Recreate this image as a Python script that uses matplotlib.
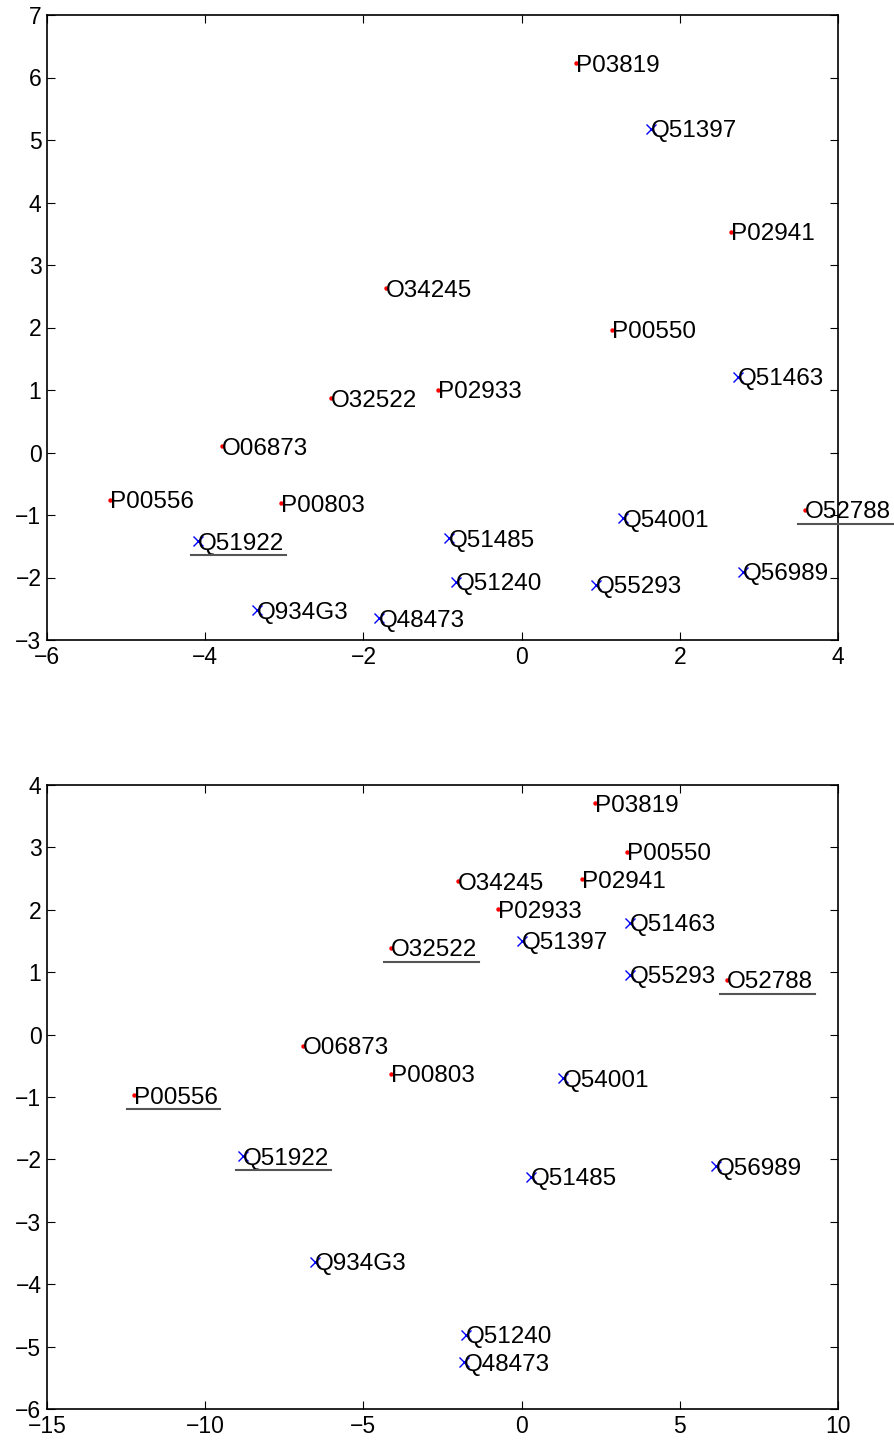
import matplotlib
matplotlib.use("Agg")
import matplotlib.pyplot as plt
from matplotlib.lines import Line2D

plt.rcParams['font.family'] = ['Liberation Sans', 'DejaVu Sans']

# top panel: red dots (P/O) and blue crosses (Q)
top_dot_names = ["P03819", "P02941", "O34245", "P00550", "P02933", "O32522",
                 "O06873", "P00556", "P00803", "O52788"]
top_dot_x = [0.69, 2.65, -1.71, 1.14, -1.06, -2.41, -3.79, -5.20, -3.04, 3.58]
top_dot_y = [6.23, 3.53, 2.63, 1.96, 1.00, 0.87, 0.10, -0.76, -0.81, -0.92]

top_x_names = ["Q51397", "Q51463", "Q54001", "Q51922", "Q51485", "Q56989",
               "Q51240", "Q55293", "Q934G3", "Q48473"]
top_x_x = [1.64, 2.74, 1.28, -4.09, -0.92, 2.80, -0.83, 0.94, -3.35, -1.80]
top_x_y = [5.18, 1.21, -1.05, -1.42, -1.37, -1.91, -2.07, -2.12, -2.52, -2.65]

top_underlined = ["Q51922", "O52788"]

# bottom panel
bot_dot_names = ["P03819", "P00550", "O34245", "P02941", "P02933", "O32522",
                 "O52788", "O06873", "P00803", "P00556"]
bot_dot_x = [2.32, 3.33, -2.01, 1.91, -0.75, -4.13, 6.49, -6.91, -4.13, -12.25]
bot_dot_y = [3.71, 2.93, 2.46, 2.49, 2.01, 1.39, 0.875, -0.18, -0.63, -0.97]

bot_x_names = ["Q51463", "Q51397", "Q55293", "Q54001", "Q51922", "Q56989",
               "Q51485", "Q934G3", "Q51240", "Q48473"]
bot_x_x = [3.43, 0.01, 3.43, 1.31, -8.81, 6.14, 0.30, -6.53, -1.76, -1.82]
bot_x_y = [1.79, 1.50, 0.96, -0.70, -1.95, -2.11, -2.28, -3.64, -4.81, -5.25]

bot_underlined = ["O32522", "O52788", "P00556", "Q51922"]

W, H = 895, 1445
fig = plt.figure(figsize=(W / 100, H / 100), dpi=100)

LABEL_FS = 17.5
TICK_FS = 16.5


def panel(rect, dn, dx, dy, xn, xx, xy, xlim, ylim, xticks, yticks, underlined):
    ax = fig.add_axes(rect)
    ax.plot(dx, dy, 'o', color='red', markersize=3.2, markeredgewidth=0, zorder=3)
    ax.plot(xx, xy, 'x', color='blue', markersize=6.5, markeredgewidth=1, zorder=3)
    texts = []
    for n, x, y in list(zip(dn, dx, dy)) + list(zip(xn, xx, xy)):
        t = ax.text(x, y, n, ha='left', va='center_baseline', fontsize=LABEL_FS,
                    clip_on=False)
        if n in underlined:
            texts.append((t, x, y))
    ax.set_xlim(*xlim)
    ax.set_ylim(*ylim)
    ax.set_xticks(xticks)
    ax.set_yticks(yticks)
    ax.tick_params(direction='in', length=6, width=0.8, top=True, right=True,
                   labelsize=TICK_FS, pad=4)
    for s in ax.spines.values():
        s.set_linewidth(1.2)
    return ax, texts


ax1, ul1 = panel([47 / W, 1 - 640 / H, 791 / W, 625 / H],
                 top_dot_names, top_dot_x, top_dot_y,
                 top_x_names, top_x_x, top_x_y,
                 (-6, 4), (-3, 7), range(-6, 5, 2), range(-3, 8), top_underlined)
ax2, ul2 = panel([47 / W, 1 - 1409 / H, 791 / W, 624 / H],
                 bot_dot_names, bot_dot_x, bot_dot_y,
                 bot_x_names, bot_x_x, bot_x_y,
                 (-15, 10), (-6, 4), range(-15, 11, 5), range(-6, 5), bot_underlined)

# underline some of the labels
fig.canvas.draw()
renderer = fig.canvas.get_renderer()
for ax, items in ((ax1, ul1), (ax2, ul2)):
    for t, x, y in items:
        bb = t.get_window_extent(renderer)
        px, py = ax.transData.transform((x, y))
        yline = py - 14
        line = Line2D([px - 7, bb.x1 + 2], [yline, yline], color='#555555',
                      linewidth=1.5, transform=None, figure=fig)
        fig.lines.append(line)

fig.savefig("out.png", dpi=100)
